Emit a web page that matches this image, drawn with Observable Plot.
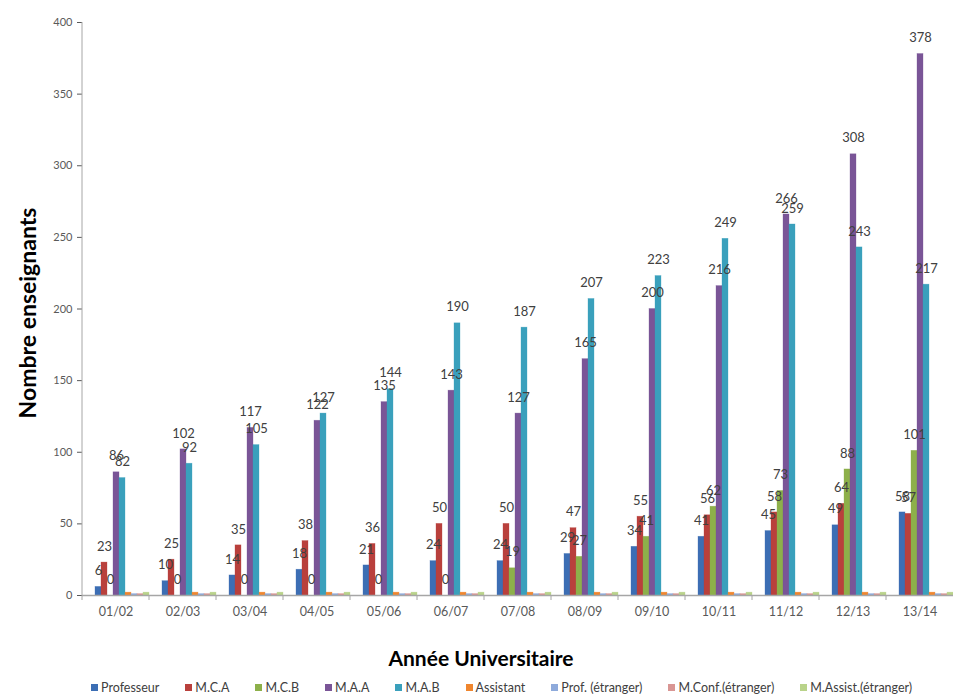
<!DOCTYPE html>
<html>
<head>
<meta charset="utf-8">
<script src="https://cdn.jsdelivr.net/npm/d3@7"></script>
<script src="https://cdn.jsdelivr.net/npm/@observablehq/plot@0.6"></script>
<style>
  html, body { margin: 0; padding: 0; background: #fff; }
  #wrap { position: relative; width: 953px; height: 697px; overflow: hidden; font-family: Lato, "Open Sans", sans-serif; }
  #chart { position: absolute; left: 0; top: 0; }
  #ytitle { position: absolute; left: 27px; top: 313px; transform: translate(-50%, -50%) rotate(-90deg); font-weight: bold; font-size: 23px; color: #000; white-space: nowrap; }
  #xtitle { position: absolute; left: 481px; top: 657px; transform: translate(-50%, -50%); font-weight: bold; font-size: 21px; color: #000; white-space: nowrap; }
  #legend { position: absolute; left: 91px; top: 680px; display: flex; gap: 26px; font-size: 12.5px; color: #404040; white-space: nowrap; }
  #legend .item { display: flex; align-items: center; gap: 3px; }
  #legend .sw { width: 7px; height: 7px; display: inline-block; }
</style>
</head>
<body>
<div id="wrap">
  <div id="chart"></div>
  <div id="ytitle">Nombre enseignants</div>
  <div id="xtitle">Année Universitaire</div>
  <div id="legend"></div>
</div>
<script>
const years = ["01/02","02/03","03/04","04/05","05/06","06/07","07/08","08/09","09/10","10/11","11/12","12/13","13/14"];
const series = ["Professeur","M.C.A","M.C.B","M.A.A","M.A.B","Assistant","Prof. (étranger)","M.Conf.(étranger)","M.Assist.(étranger)"];
const colors = ["#3C6EB4","#B9403C","#8DB04A","#7A5597","#3AA0BC","#F0862E","#8EAADB","#D99694","#B9D38A"];

const professeur = [6,10,14,18,21,24,24,29,34,41,45,49,58];
const mca        = [23,25,35,38,36,50,50,47,55,56,58,64,57];
const mcb        = [0,0,0,0,0,0,19,27,41,62,73,88,101];
const maa        = [86,102,117,122,135,143,127,165,200,216,266,308,378];
const mab        = [82,92,105,127,144,190,187,207,223,249,259,243,217];
const assistant  = [2,2,2,2,2,2,2,2,2,2,2,2,2];
const profEtr    = [1,1,1,1,1,1,1,1,1,1,1,1,1];
const mconfEtr   = [1,1,1,1,1,1,1,1,1,1,1,1,1];
const massistEtr = [2,2,2,2,2,2,2,2,2,2,2,2,2];
const yTicks = [0,50,100,150,200,250,300,350,400];
const labeledSeries = ["Professeur","M.C.A","M.C.B","M.A.A","M.A.B"];

const seriesValues = [professeur, mca, mcb, maa, mab, assistant, profEtr, mconfEtr, massistEtr];
const table = [];
years.forEach((yr, i) => {
  series.forEach((s, j) => table.push({year: yr, series: s, value: seriesValues[j][i]}));
});

const plot = Plot.plot({
  width: 953,
  height: 640,
  marginLeft: 77,
  marginRight: -4,
  marginTop: 22,
  marginBottom: 45,
  facet: {data: table, x: "year"},
  fx: {domain: years, paddingInner: 0, paddingOuter: 0, label: null, tickSize: 0, tickPadding: 12},
  x: {domain: series, paddingInner: 0, paddingOuter: 0.55, align: 1, axis: null},
  y: {domain: [0, 400], ticks: yTicks, tickSize: 5, tickPadding: 5, label: null},
  color: {domain: series, range: colors},
  style: {fontFamily: "Lato, 'Open Sans', sans-serif", fontSize: "11px", color: "#595959", background: "transparent"},
  marks: [
    Plot.barY(table, {x: "series", y: "value", fill: "series", stroke: "series", strokeOpacity: 0.5, strokeWidth: 0.6}),
    Plot.ruleY([0], {stroke: "#a6a6a6", strokeWidth: 1.5}),
    Plot.text(table, {filter: d => labeledSeries.includes(d.series), x: "series", y: "value", text: d => String(d.value), dy: -16, fill: "#404040", fontSize: 13})
  ]
});
document.getElementById("chart").appendChild(plot);

// fx tick labels slightly larger
d3.select(plot).selectAll("[aria-label='fx-axis tick label'] text, [aria-label='fx-axis'] text").style("font-size", "12.5px");

// axis line and category boundary ticks via the plot's own scales
const yS = plot.scale("y");
const fxS = plot.scale("fx");
const svg = d3.select(plot);
const y0 = yS.apply(0), yTop = yS.apply(400);
const xLeft = fxS.apply(years[0]);
svg.append("line").attr("x1", xLeft).attr("x2", xLeft).attr("y1", yTop).attr("y2", y0).attr("stroke", "#a6a6a6");
years.forEach(yr => {
  const xs = fxS.apply(yr);
  svg.append("line").attr("x1", xs).attr("x2", xs).attr("y1", y0).attr("y2", y0 + 5).attr("stroke", "#a6a6a6");
});

const legend = d3.select("#legend");
series.forEach((s, i) => {
  const it = legend.append("div").attr("class", "item");
  it.append("span").attr("class", "sw").style("background", colors[i]);
  it.append("span").text(s);
});
</script>
</body>
</html>
